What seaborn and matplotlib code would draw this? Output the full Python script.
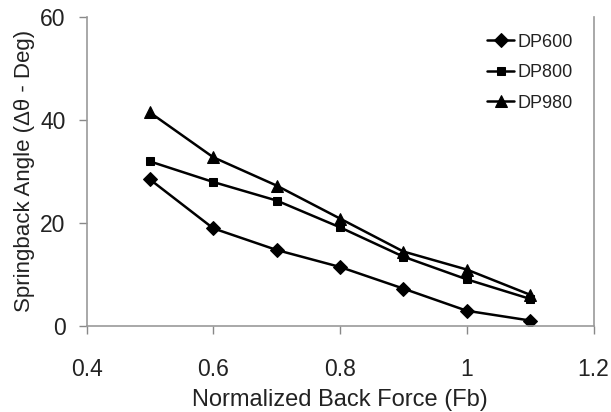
import numpy as np
import pandas as pd
import seaborn as sns
import matplotlib.pyplot as plt

# values
back_force = [0.5, 0.6, 0.7, 0.8, 0.9, 1.0, 1.1]
dp600 = [28.4, 18.9, 14.7, 11.4, 7.2, 2.9, 1.0]
dp800 = [31.9, 27.9, 24.3, 19.1, 13.4, 9.0, 5.2]
dp980 = [41.4, 32.7, 27.2, 20.8, 14.4, 10.9, 6.0]
x_ticks = [0.4, 0.6, 0.8, 1.0, 1.2]
x_tick_labels = ['0.4', '0.6', '0.8', '1', '1.2']
y_ticks = [0, 20, 40, 60]

sns.set_style('white')
plt.rcParams['font.family'] = ['Liberation Sans', 'DejaVu Sans']

fig = plt.figure(figsize=(6.11, 4.12), dpi=100)
# axes box: x 86.5..593.5 px, y 16.7..325.7 px
ax = fig.add_axes([0.1416, 0.2095, 0.8298, 0.75])

series = [('DP600', dp600, 'D', 7.5),
          ('DP800', dp800, 's', 6),
          ('DP980', dp980, '^', 9)]
for name, vals, mk, ms in series:
    df = pd.DataFrame({'x': back_force, 'y': vals})
    sns.lineplot(data=df, x='x', y='y', ax=ax, color='black', linewidth=1.8,
                 marker=mk, markersize=ms, markeredgecolor='black', label=name)

ax.set_xlim(0.4, 1.2)
ax.set_ylim(0, 60)
ax.set_xticks(x_ticks)
ax.set_xticklabels(x_tick_labels)
ax.set_yticks(y_ticks)
ax.tick_params(axis='both', labelsize=16.5, length=6, width=1, direction='out',
               bottom=True, left=True, color='#888888', labelcolor='#222222')
ax.tick_params(axis='x', pad=17)
ax.tick_params(axis='y', pad=9)
ax.set_xlabel('Normalized Back Force (Fb)', fontsize=17, color='#222222', labelpad=6)
ax.set_ylabel('Springback Angle (\u0394\u03b8 - Deg)', fontsize=16, color='#222222', labelpad=4)

for side in ['left', 'bottom', 'right']:
    ax.spines[side].set_color('#999999')
    ax.spines[side].set_linewidth(1.2)
ax.spines['top'].set_visible(False)

leg = ax.legend(loc='upper left', bbox_to_anchor=(0.79, 0.945), frameon=False,
                fontsize=13, handlelength=1.5, handletextpad=0.2,
                labelspacing=0.75, borderaxespad=0, borderpad=0)
for t in leg.get_texts():
    t.set_color('#222222')

fig.savefig('out.png', dpi=100)
